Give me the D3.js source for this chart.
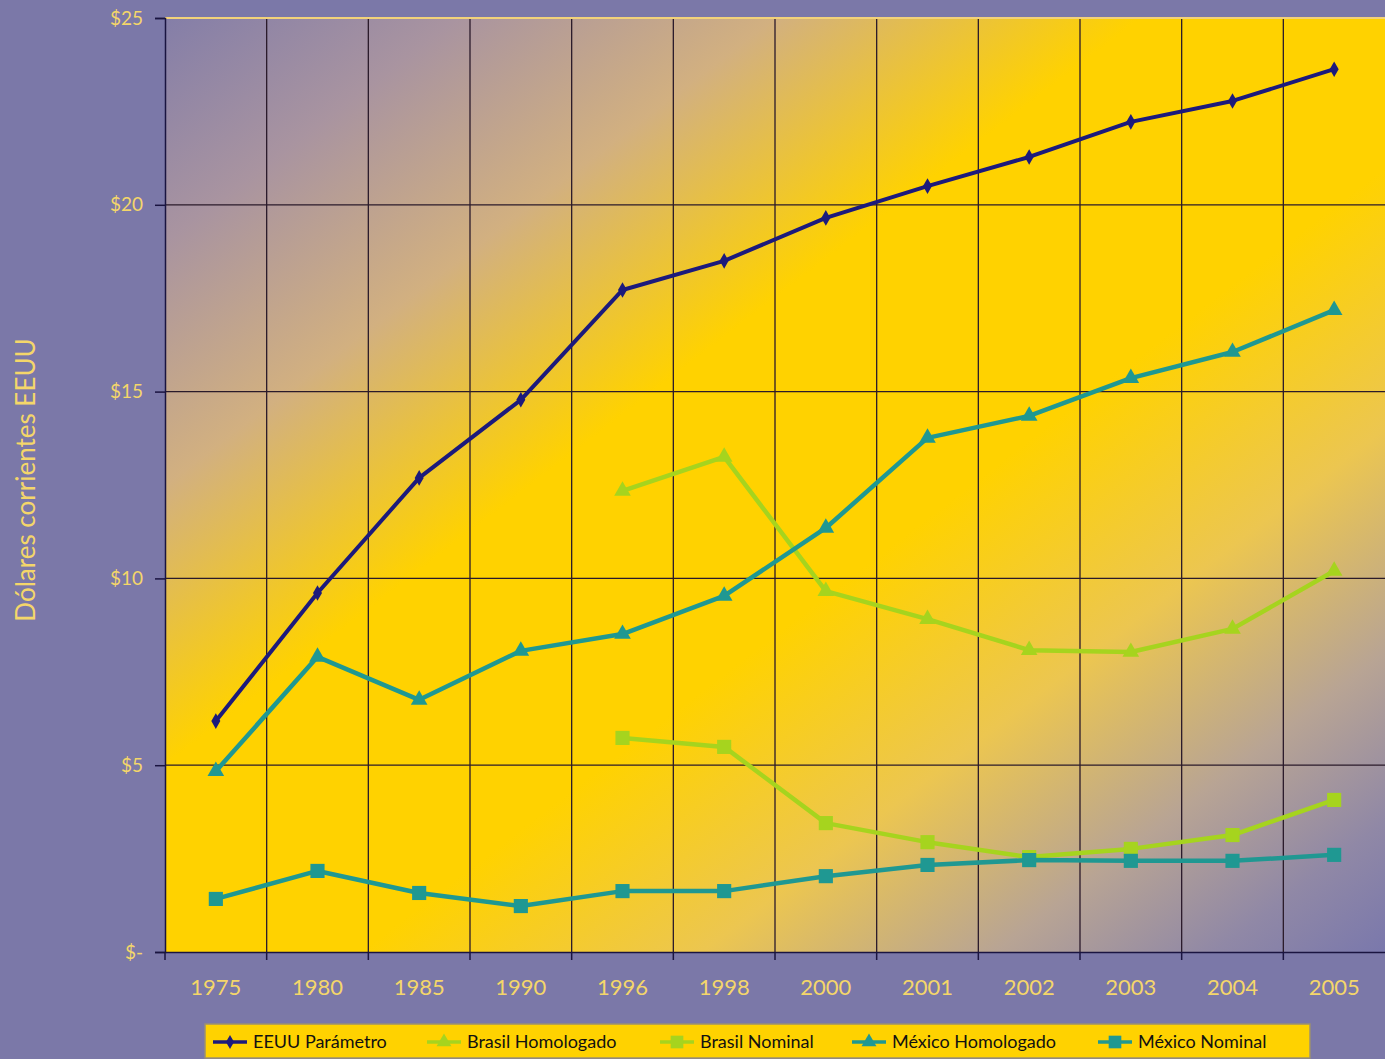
<!DOCTYPE html>
<html><head><meta charset="utf-8">
<script src="https://cdn.jsdelivr.net/npm/d3@7"></script>
<style>body{margin:0;background:#7b78a8;}svg{display:block;}</style>
</head><body>
<svg id="c" width="1385" height="1059"></svg>
<script>
const years = ["1975","1980","1985","1990","1996","1998","2000","2001","2002","2003","2004","2005"];
const yTicks = [0,5,10,15,20,25];
const eeuu = [6.18,9.61,12.69,14.78,17.72,18.50,19.65,20.50,21.28,22.22,22.78,23.63];
const brasilHom = [null,null,null,null,12.34,13.25,9.66,8.91,8.08,8.03,8.65,10.20];
const brasilNom = [null,null,null,null,5.73,5.49,3.45,2.94,2.54,2.76,3.13,4.07];
const mexHom = [4.84,7.90,6.75,8.06,8.51,9.53,11.35,13.76,14.35,15.36,16.06,17.18];
const mexNom = [1.42,2.17,1.58,1.23,1.63,1.63,2.03,2.33,2.46,2.44,2.44,2.60];
const seriesNames = ["EEUU Parámetro","Brasil Homologado","Brasil Nominal","México Homologado","México Nominal"];

const svg = d3.select("#c");
const L=165,R=1385,T=18,B=952;
const x = d3.scaleBand().domain(years).range([L,R]);
const y = d3.scaleLinear().domain([0,25]).range([B,T]);
const cx = d => x(d)+x.bandwidth()/2;

const defs = svg.append("defs");
const g = defs.append("linearGradient").attr("id","bg")
  .attr("x1",0).attr("y1",0).attr("x2",1).attr("y2",1);
[[0,"#847ea8"],[0.12,"#a994a0"],[0.25,"#d2b080"],[0.4,"#ffd200"],[0.58,"#ffd200"],[0.72,"#ecc650"],[0.84,"#b8a494"],[0.93,"#9088a6"],[1,"#7a78ac"]]
  .forEach(s=>g.append("stop").attr("offset",s[0]).attr("stop-color",s[1]));

svg.append("rect").attr("x",L).attr("y",T).attr("width",R-L).attr("height",B-T).attr("fill","url(#bg)");

// gridlines
svg.append("g").selectAll("line").data(years.slice(1)).join("line")
  .attr("x1",d=>x(d)).attr("x2",d=>x(d)).attr("y1",T).attr("y2",B)
  .attr("stroke","#2a1a2a").attr("stroke-width",1.3);
svg.append("g").selectAll("line").data(yTicks.slice(1,5)).join("line")
  .attr("x1",L).attr("x2",R).attr("y1",d=>y(d)).attr("y2",d=>y(d))
  .attr("stroke","#2a1a2a").attr("stroke-width",1.3);
svg.append("line").attr("x1",L).attr("x2",R).attr("y1",T).attr("y2",T).attr("stroke","#f2d27a").attr("stroke-width",2);

// axes
const fmt = d => d===0 ? "$-" : "$"+d;
const ya = svg.append("g").attr("transform",`translate(${L},0)`)
  .call(d3.axisLeft(y).tickValues(yTicks).tickFormat(fmt).tickSize(10).tickPadding(12));
ya.select(".domain").attr("stroke","#1a1440").attr("stroke-width",1.5);
ya.selectAll(".tick line").attr("stroke","#1a1440").attr("stroke-width",1.5);
ya.selectAll("text").attr("fill","#f4d66a").attr("font-family","Lato, sans-serif").attr("font-size",19);

const xa = svg.append("g").attr("transform",`translate(0,${B})`)
  .call(d3.axisBottom(x).tickSize(0).tickPadding(27));
xa.select(".domain").attr("stroke","#1a1440").attr("stroke-width",1.5);
xa.selectAll("text").attr("fill","#f4d66a").attr("font-family","Lato, sans-serif").attr("font-size",22);
svg.append("g").selectAll("line").data(years).join("line")
  .attr("x1",d=>x(d)).attr("x2",d=>x(d)).attr("y1",B).attr("y2",B+8)
  .attr("stroke","#1a1440").attr("stroke-width",1.5);

svg.append("text").attr("transform",`translate(35,${480}) rotate(-90)`)
  .attr("text-anchor","middle").attr("fill","#f4d66a").attr("font-family","Lato, sans-serif")
  .attr("font-size",26).text("Dólares corrientes EEUU");

const series = [
  {name:seriesNames[0],vals:eeuu,color:"#1c1a7c",sym:d3.symbolDiamond,size:70,w:4},
  {name:seriesNames[1],vals:brasilHom,color:"#a6d41e",sym:d3.symbolTriangle,size:120,w:4.5},
  {name:seriesNames[2],vals:brasilNom,color:"#a6d41e",sym:d3.symbolSquare,size:200,w:4.5},
  {name:seriesNames[3],vals:mexHom,color:"#1f9892",sym:d3.symbolTriangle,size:120,w:4.5},
  {name:seriesNames[4],vals:mexNom,color:"#1f9892",sym:d3.symbolSquare,size:200,w:4.5}
];
const line = d3.line().defined(d=>d.v!=null).x(d=>cx(d.k)).y(d=>y(d.v));
series.forEach(s=>{
  const pts = years.map((k,i)=>({k,v:s.vals[i]}));
  svg.append("path").datum(pts).attr("d",line).attr("fill","none")
    .attr("stroke",s.color).attr("stroke-width",s.w).attr("stroke-linejoin","round");
  svg.append("g").selectAll("path").data(pts.filter(d=>d.v!=null)).join("path")
    .attr("transform",d=>`translate(${cx(d.k)},${y(d.v)})`)
    .attr("d",d3.symbol().type(s.sym).size(s.size)).attr("fill",s.color);
});

// legend
const lg = svg.append("g");
lg.append("rect").attr("x",205).attr("y",1024).attr("width",1105).attr("height",34)
  .attr("fill","#ffd200").attr("stroke","#9c9070").attr("stroke-width",1.5);
const legX = [213,427,660,852,1098];
series.forEach((s,i)=>{
  const gx = legX[i], gy = 1042;
  lg.append("line").attr("x1",gx).attr("x2",gx+34).attr("y1",gy).attr("y2",gy).attr("stroke",s.color).attr("stroke-width",3.5);
  lg.append("path").attr("transform",`translate(${gx+17},${gy})`).attr("d",d3.symbol().type(s.sym).size(s.size*0.8)).attr("fill",s.color);
  lg.append("text").attr("x",gx+40).attr("y",gy+6).attr("fill","#111").attr("font-family","Lato, sans-serif")
    .attr("font-size",18).text(s.name);
});
</script>
</body></html>
